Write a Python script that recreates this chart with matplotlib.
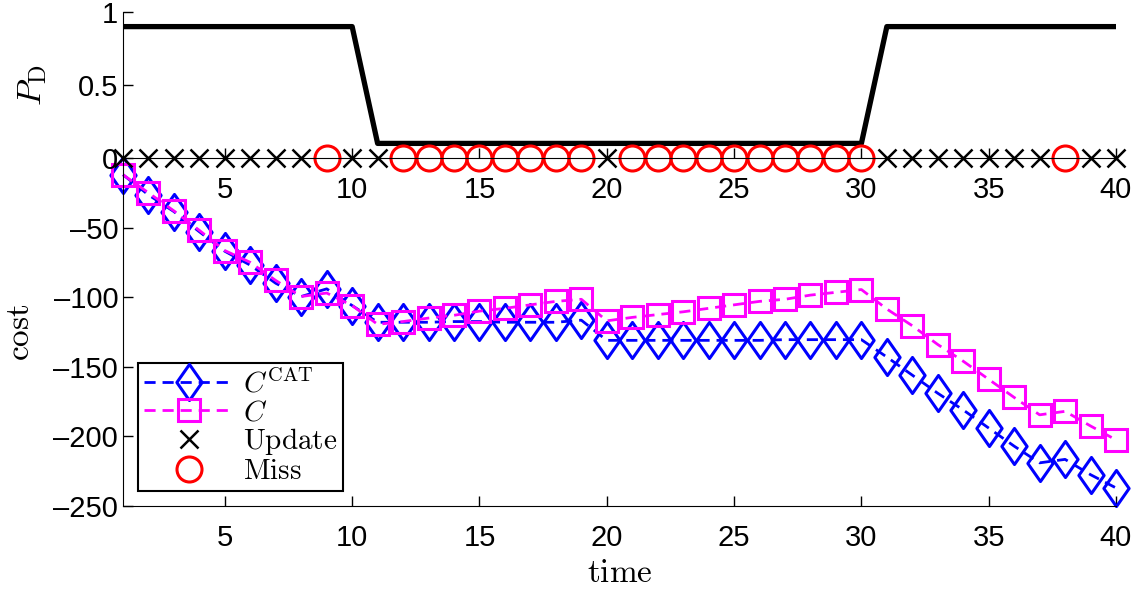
import matplotlib
matplotlib.use("Agg")
import matplotlib.pyplot as plt
from matplotlib.path import Path

plt.rcParams['font.family'] = ['Liberation Sans', 'DejaVu Sans']
plt.rcParams['mathtext.fontset'] = 'cm'

# time steps
time = list(range(1, 41))

# detection probability (top panel)
p_detect = [0.9, 0.9, 0.9, 0.9, 0.9, 0.9, 0.9, 0.9, 0.9, 0.9,
            0.1, 0.1, 0.1, 0.1, 0.1, 0.1, 0.1, 0.1, 0.1, 0.1,
            0.1, 0.1, 0.1, 0.1, 0.1, 0.1, 0.1, 0.1, 0.1, 0.1,
            0.9, 0.9, 0.9, 0.9, 0.9, 0.9, 0.9, 0.9, 0.9, 0.9]

update_times = [1, 2, 3, 4, 5, 6, 7, 8, 10, 11, 20, 31, 32, 33, 34, 35, 36, 37, 39, 40]
miss_times = [9, 12, 13, 14, 15, 16, 17, 18, 19, 21, 22, 23, 24, 25, 26, 27, 28, 29, 30, 38]

# costs (bottom panel)
cost_cat = [-12, -26.5, -38.5, -53, -67, -77, -90, -99.5, -94, -106,
            -118, -118, -118, -117.5, -117.5, -118, -118, -118, -116.5, -131,
            -131, -131, -131, -131, -131, -131, -130.5, -130.5, -130.5, -130.5,
            -143, -156, -169, -181, -194, -207, -219, -216.5, -227.5, -237]
cost_c = [-12, -25, -38, -52, -66.5, -75, -88, -99.5, -97, -106,
          -119.5, -117.5, -115, -113, -110, -108, -105.5, -103, -101.5, -117,
          -114.5, -112.5, -110.5, -108, -105.5, -103, -101.5, -98.5, -96.5, -94.5,
          -108.5, -120.5, -134, -146, -159, -172, -184.5, -182, -192.5, -202.5]

cost_ticks = [-250, -200, -150, -100, -50]
cost_ticklabels = ['\u2013250', '\u2013200', '\u2013150', '\u2013100', '\u201350']
time_ticks = [5, 10, 15, 20, 25, 30, 35, 40]

# tall matlab-like diamond
diamond = Path([(0, 1), (0.7, 0), (0, -1), (-0.7, 0), (0, 1)],
               [Path.MOVETO, Path.LINETO, Path.LINETO, Path.LINETO, Path.CLOSEPOLY])

W, H = 1141, 592
fig = plt.figure(figsize=(W / 100, H / 100), dpi=100)
ax_bot = fig.add_axes([123 / W, 1 - 506 / H, 993 / W, 348 / H])
ax_top = fig.add_axes([123 / W, 1 - 158 / H, 993 / W, 146 / H])

for ax in (ax_bot, ax_top):
    ax.set_facecolor('none')
    ax.spines['top'].set_visible(False)
    ax.spines['right'].set_visible(False)
    ax.tick_params(direction='in', length=7, width=1, labelsize=21)
    ax.set_xlim(1, 40)
    ax.set_xticks(time_ticks)

# top panel
ax_top.plot(time, p_detect, color='k', linewidth=3.8)
upd, = ax_top.plot(update_times, [0] * len(update_times), linestyle='none', marker='x',
                   markersize=13, markeredgewidth=1.8, color='k', clip_on=False)
mis, = ax_top.plot(miss_times, [0] * len(miss_times), linestyle='none', marker='o',
                   markersize=18, markeredgewidth=2.2, markerfacecolor='none', color='r',
                   clip_on=False)
ax_top.set_ylim(0, 1)
ax_top.set_yticks([0, 0.5, 1])
ax_top.set_yticklabels(['0', '0.5', '1'])
ax_top.tick_params(axis='x', pad=13)
ax_top.set_ylabel(r'$P_{\mathrm{D}}$', fontsize=25)
ax_top.yaxis.set_label_coords(-0.075, 0.5)

# bottom panel
l_cat, = ax_bot.plot(time, cost_cat, color='b', linestyle='--', dashes=(4, 2.5), linewidth=2,
                     marker=diamond, markersize=26, markeredgewidth=2.2,
                     markerfacecolor='none', clip_on=False)
l_c, = ax_bot.plot(time, cost_c, color='#ff00ff', linestyle='--', dashes=(4, 2.5), linewidth=2,
                   marker='s', markersize=15.5, markeredgewidth=2.2,
                   markerfacecolor='none', clip_on=False)
ax_bot.set_ylim(-250, 0)
ax_bot.set_yticks(cost_ticks)
ax_bot.set_yticklabels(cost_ticklabels)
ax_bot.tick_params(axis='x', pad=13)
ax_bot.set_ylabel(r'$\mathrm{cost}$', fontsize=24)
ax_bot.yaxis.set_label_coords(-0.088, 0.5)
ax_bot.set_xlabel(r'$\mathrm{time}$', fontsize=24)
ax_bot.xaxis.set_label_coords(0.5, -0.15)

leg = ax_bot.legend([l_cat, l_c, upd, mis],
                    [r'$C^{\mathrm{CAT}}$', r'$C$', r'$\mathrm{Update}$', r'$\mathrm{Miss}$'],
                    loc='lower left', bbox_to_anchor=(0.015, 0.043), borderaxespad=0,
                    fontsize=21, handlelength=3.1, labelspacing=0.0, numpoints=1,
                    fancybox=False, framealpha=1, edgecolor='k', borderpad=0.2,
                    handletextpad=0.3)
leg.get_frame().set_linewidth(1.5)

fig.savefig('out.png', dpi=100)
